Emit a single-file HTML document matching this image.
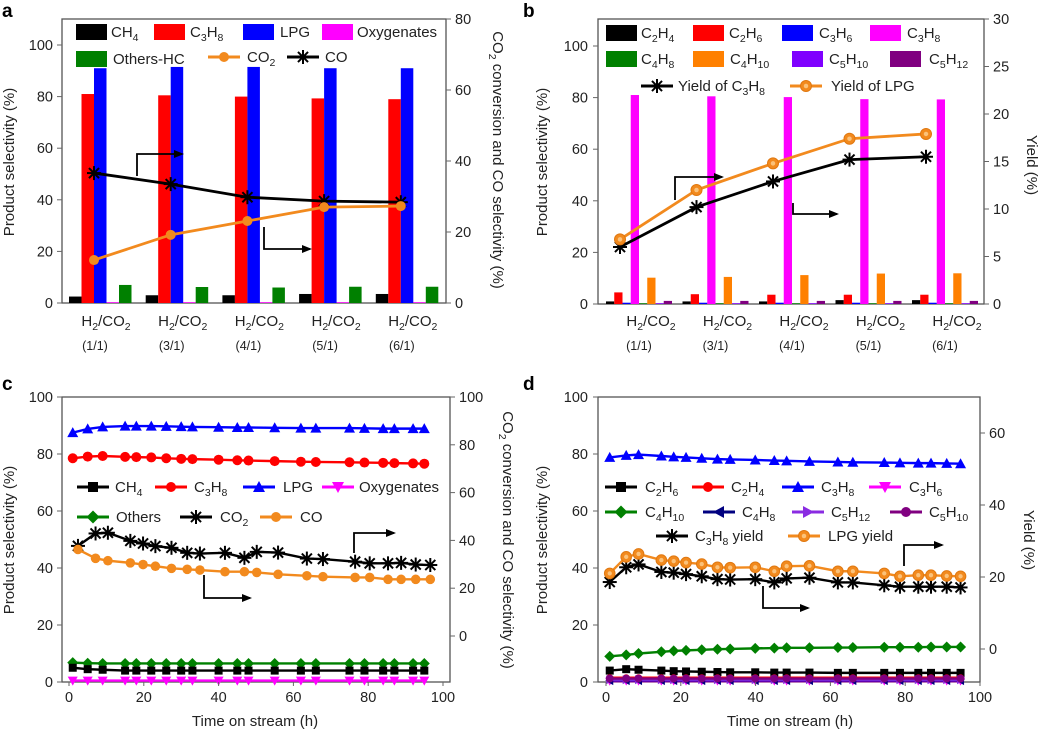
<!DOCTYPE html>
<html><head><meta charset="utf-8"><style>
body{margin:0;background:#fff;}
svg{display:block;font-family:"Liberation Sans",sans-serif;}
</style></head><body>
<svg id="fig" width="1039" height="731" viewBox="0 0 1039 731"></svg>
<script>
// ---- Panel a data ----
const aCats = ["(1/1)","(3/1)","(4/1)","(5/1)","(6/1)"];
const aCH4 = [2.5,3,3,3.5,3.5];
const aC3H8 = [81,80.5,80,79.3,79];
const aLPG = [91,91.5,91.5,91,91];
const aOxy = [0.3,0.3,0.3,0.3,0.3];
const aOthers = [7,6.2,6,6.3,6.3];
const aCO2conv = [12.1,19.2,23.1,27,27.3];
const aCOsel = [36.6,33.5,29.8,28.7,28.4];
const aLeftTicks = [0,20,40,60,80,100];
const aRightTicks = [0,20,40,60,80];
// ---- Panel b data ----
const bC2H4 = [1,1,1,1.5,1.5];
const bC2H6 = [4.5,3.8,3.6,3.6,3.6];
const bC3H6 = [0.5,0.5,0.5,0.5,0.5];
const bC3H8 = [81,80.5,80.2,79.4,79.3];
const bC4H8 = [0.3,0.3,0.3,0.3,0.3];
const bC4H10 = [10.2,10.5,11.2,11.8,11.9];
const bC5H10 = [0.3,0.3,0.3,0.3,0.3];
const bC5H12 = [1.2,1.2,1.2,1.2,1.2];
const bYieldC3H8 = [6.0,10.2,12.9,15.2,15.5];
const bYieldLPG = [6.8,12.0,14.8,17.4,17.9];
const bRightTicks = [0,5,10,15,20,25,30];
// ---- Panel c data ----
const cHours = [1,5,9,15,18,22,26,30,33,40,45,48,55,62,66,75,79,84,87,92,95];
const cLPG = [87.5,88.8,89.5,89.8,89.8,89.8,89.7,89.6,89.5,89.4,89.3,89.3,89.2,89.1,89.1,89.1,89,88.9,88.9,88.9,88.9];
const cC3H8 = [78.5,79.1,79.3,79,78.9,78.8,78.5,78.3,78.2,78,77.8,77.7,77.5,77.3,77.2,77.1,77,76.9,76.8,76.7,76.6];
const cOthers = [6.8,6.6,6.5,6.5,6.5,6.5,6.5,6.5,6.5,6.5,6.5,6.5,6.5,6.5,6.5,6.5,6.5,6.5,6.5,6.5,6.5];
const cCH4 = [5,4.5,4.3,4,4,4,4,4,4,4,4,4,4,4,4,4,4,4,4,4,4];
const cOxy = [0.5,0.5,0.5,0.5,0.5,0.5,0.5,0.5,0.5,0.5,0.5,0.5,0.5,0.5,0.5,0.5,0.5,0.5,0.5,0.5,0.5];
const cGasHours = [2.4,7.1,10.4,16.4,19.8,23.1,27.4,31.6,35,41.7,46.9,50.2,55.9,63.6,67.9,76.5,80.4,85.3,88.8,92.7,96.6];
const cCO2 = [37.7,42.9,43.2,39.8,38.7,37.6,36.9,34.8,34.5,34.8,32.7,35.2,34.9,32.4,32.2,31.1,30.4,30.4,30.6,29.9,29.7];
const cCO = [36.2,32.5,31.5,30.6,29.9,29.2,28.3,27.9,27.6,26.9,26.9,26.6,25.8,25.2,24.8,24.5,24.5,23.7,23.7,23.7,23.7];
const xTicks = [0,20,40,60,80,100];
const cRightTicks = [0,20,40,60,80,100];
// ---- Panel d data ----
const dHours = [1,5.4,8.7,14.8,18.1,21.4,25.6,29.8,33.2,39.9,45,48.3,54.4,62,66,74.4,78.6,83.5,86.9,91.1,94.8];
const dC3H8 = [78.8,79.5,79.8,79.3,79,78.8,78.5,78.2,78.1,77.9,77.7,77.6,77.4,77.2,77.1,77,76.9,76.8,76.8,76.7,76.6];
const dC4H10 = [9,9.5,10,10.6,10.9,11.1,11.3,11.5,11.6,11.8,11.9,12,12,12.1,12.1,12.2,12.2,12.2,12.3,12.3,12.3];
const dC2H6 = [4,4.5,4.3,4,3.8,3.7,3.6,3.5,3.4,3.4,3.3,3.3,3.3,3.2,3.2,3.2,3.2,3.2,3.2,3.2,3.2];
const dC2H4 = [1.5,1.5,1.5,1.5,1.5,1.5,1.5,1.5,1.5,1.5,1.5,1.5,1.5,1.5,1.5,1.5,1.5,1.5,1.5,1.5,1.5];
const dC3H6 = [0.3,0.3,0.3,0.3,0.3,0.3,0.3,0.3,0.3,0.3,0.3,0.3,0.3,0.3,0.3,0.3,0.3,0.3,0.3,0.3,0.3];
const dC4H8 = [0.5,0.5,0.5,0.5,0.5,0.5,0.5,0.5,0.5,0.5,0.5,0.5,0.5,0.5,0.5,0.5,0.5,0.5,0.5,0.5,0.5];
const dC5H12 = [0.8,0.8,0.8,0.8,0.8,0.8,0.8,0.8,0.8,0.8,0.8,0.8,0.8,0.8,0.8,0.8,0.8,0.8,0.8,0.8,0.8];
const dC5H10 = [1.2,1.2,1.2,1.2,1.2,1.2,1.2,1.2,1.2,1.2,1.2,1.2,1.2,1.2,1.2,1.2,1.2,1.2,1.2,1.2,1.2];
const dYieldC3H8 = [18.6,22.7,23.5,21.4,21.2,20.8,20.2,19.4,19.3,19.4,18.5,19.6,19.8,18.5,18.5,17.7,17.3,17.3,17.3,17.3,17.1];
const dYieldLPG = [21,25.6,26.4,24.7,24.4,24,23.6,22.7,22.6,22.7,21.6,23,23.1,21.6,21.6,21,20.2,20.5,20.5,20.3,20.2];
const dRightTicks = [0,20,40,60];

const NS = "http://www.w3.org/2000/svg";
const svg = document.getElementById('fig');
const OR = "#f28a1e", GR = "#008000", BL = "#0000ff", RD = "#ff0000", MG = "#ff00ff";
function el(tag, attrs, parent){
  const e = document.createElementNS(NS, tag);
  for (const k in attrs) e.setAttribute(k, attrs[k]);
  (parent||svg).appendChild(e);
  return e;
}
function group(name){
  const g = el('g', {});
  
  
  return g;
}
function txt(parent, x, y, s, opts){
  opts = opts||{};
  const t = el('text', {x:x, y:y, 'font-size':opts.size||14, fill:opts.fill||'#222', 'text-anchor':opts.anchor||'start'}, parent);
  if (opts.weight) t.setAttribute('font-weight', opts.weight);
  if (opts.transform) t.setAttribute('transform', opts.transform);
  const parts = s.split(/(_[0-9]+)/);
  let sub = false;
  parts.forEach(p => {
    if (!p) return;
    const ts = document.createElementNS(NS, 'tspan');
    if (p[0] === '_') {
      ts.textContent = p.slice(1);
      ts.setAttribute('font-size', (opts.size||14)*0.7);
      ts.setAttribute('dy', 4);
      sub = true;
    } else {
      ts.textContent = p;
      if (sub) { ts.setAttribute('dy', -4); sub = false; }
    }
    t.appendChild(ts);
  });
  return t;
}
function marker(parent, type, x, y, color, r){
  r = r||4.5;
  let m;
  if (type==='square') m = el('rect',{x:x-r,y:y-r,width:2*r,height:2*r,fill:color},parent);
  else if (type==='circle') m = el('circle',{cx:x,cy:y,r:r,fill:color},parent);
  else if (type==='ocircle'){ m = el('circle',{cx:x,cy:y,r:r+0.5,fill:color,stroke:'#e07810','stroke-width':1},parent); el('circle',{cx:x,cy:y,r:r*0.45,fill:'#fbc27a'},parent); }
  else if (type==='tri') m = el('polygon',{points:`${x},${y-r-1} ${x-r-1},${y+r} ${x+r+1},${y+r}`,fill:color},parent);
  else if (type==='tridown') m = el('polygon',{points:`${x},${y+r+1} ${x-r-1},${y-r} ${x+r+1},${y-r}`,fill:color},parent);
  else if (type==='trileft') m = el('polygon',{points:`${x-r-1},${y} ${x+r},${y-r-1} ${x+r},${y+r+1}`,fill:color},parent);
  else if (type==='triright') m = el('polygon',{points:`${x+r+1},${y} ${x-r},${y-r-1} ${x-r},${y+r+1}`,fill:color},parent);
  else if (type==='diamond') m = el('polygon',{points:`${x},${y-r-1.5} ${x+r+1.5},${y} ${x},${y+r+1.5} ${x-r-1.5},${y}`,fill:color},parent);
  else if (type==='star'){
    m = el('g',{},parent);
    const R = r+3;
    [[0,R],[R,0],[R*0.72,R*0.72],[R*0.72,-R*0.72]].forEach(([dx,dy])=>{
      el('line',{x1:x-dx,y1:y-dy,x2:x+dx,y2:y+dy,stroke:color,'stroke-width':2},m);
    });
  }
  return m;
}
function series(name, xs, ys, color, type, lw, r){
  const g = group(name);
  el('polyline',{points:xs.map((x,i)=>x+','+ys[i]).join(' '),fill:'none',stroke:color,'stroke-width':lw||2.2},g);
  xs.forEach((x,i)=>{
    const m = marker(g, type, x, ys[i], color, r);
    
    
  });
  return g;
}
function frame(name,x0,y0,x1,y1){
  const r = el('rect',{x:x0,y:y0,width:x1-x0,height:y1-y0,fill:'none',stroke:'#555','stroke-width':1.3});
  
  
}
function leftAxis(name, ticks, yf, x0, labelRight){
  const g = group(name);
  ticks.forEach(t=>{
    el('line',{x1:x0-5,y1:yf(t),x2:x0,y2:yf(t),stroke:'#666','stroke-width':1},g);
    txt(g, labelRight, yf(t)+5, String(t), {anchor:'end', size:14.5});
  });
}
function rightAxis(name, ticks, yf, x1, labelLeft){
  const g = group(name);
  ticks.forEach(t=>{
    el('line',{x1:x1,y1:yf(t),x2:x1+5,y2:yf(t),stroke:'#666','stroke-width':1},g);
    txt(g, labelLeft, yf(t)+5, String(t), {size:14.5});
  });
}
function bottomAxis(name, ticks, xf, y1){
  const g = group(name);
  ticks.forEach(t=>{
    el('line',{x1:xf(t),y1:y1,x2:xf(t),y2:y1+4,stroke:'#666','stroke-width':1},g);
    txt(g, xf(t), y1+20, String(t), {anchor:'middle', size:14.5});
  });
}
function arrowPath(name, pts){
  const g = group(name);
  el('polyline',{points:pts.map(p=>p.join(',')).join(' '),fill:'none',stroke:'#000','stroke-width':1.8},g);
  const [x,y] = pts[pts.length-1];
  el('polygon',{points:`${x+2},${y} ${x-8},${y-4} ${x-8},${y+4}`,fill:'#000'},g);
}
function vtitle(name, x, y, s, rot){
  const g = group(name);
  txt(g, x, y, s, {anchor:'middle', size:15, transform:`rotate(${rot} ${x} ${y})`});
}
function legendRect(g,x,y,color,label,tx){
  el('rect',{x:x,y:y-8,width:31,height:16,fill:color},g);
  txt(g, tx, y+5, label, {size:15});
}
function legendLine(g,x,y,color,type,label,tx){
  el('line',{x1:x,y1:y,x2:x+32,y2:y,stroke:color,'stroke-width':3},g);
  marker(g,type,x+16,y,color,type==='star'?4:5);
  txt(g, tx, y+5, label, {size:15});
}

// ================= Panel a =================
(function(){
  const Y = v => 303 - v*2.58, YR = v => 303 - v*3.55;
  const GX = i => 69 + i*76.7, BW = 12.5;
  txt(svg, 2, 17, 'a', {size:19, weight:'bold', fill:'#000'});
  frame('panel-a-frame',62,19,446,303);
  const sets = [[aCH4,'#000','ch4'],[aC3H8,RD,'c3h8'],[aLPG,BL,'lpg'],[aOxy,MG,'oxygenates'],[aOthers,GR,'others-hc']];
  sets.forEach(([arr,col,nm],k)=>{
    const g = group('bars-a-'+nm);
    arr.forEach((v,i)=>{
      const r = el('rect',{x:GX(i)+k*BW,y:Y(v),width:BW,height:303-Y(v),fill:col},g);
      
      
    });
  });
  series('line-a-co-selectivity', aCOsel.map((v,i)=>GX(i)+25), aCOsel.map(YR), '#000', 'star', 2.8, 4);
  series('line-a-co2-conversion', aCO2conv.map((v,i)=>GX(i)+25), aCO2conv.map(YR), OR, 'circle', 2.8, 5);
  leftAxis('y-axis-left-a', aLeftTicks, Y, 62, 53);
  rightAxis('y-axis-right-a', aRightTicks, YR, 446, 455);
  const gx = group('x-axis-a');
  aCats.forEach((c,i)=>{
    txt(gx, GX(i)+37, 326, 'H_2/CO_2', {anchor:'middle', size:15});
    txt(gx, GX(i)+26, 350, c, {anchor:'middle', size:12.5});
  });
  vtitle('y-axis-title-left-a', 14, 162, 'Product selectivity (%)', -90);
  vtitle('y-axis-title-right-a', 493, 160, 'CO_2 conversion and CO selectivity (%)', 90);
  const lg = group('legend-a');
  legendRect(lg,76,32,'#000','CH_4',111);
  legendRect(lg,154,32,RD,'C_3H_8',190);
  legendRect(lg,243,32,BL,'LPG',280);
  legendRect(lg,322,32,MG,'Oxygenates',357);
  legendRect(lg,76,59,GR,'Others-HC',113);
  legendLine(lg,208,57,OR,'circle','CO_2',247);
  legendLine(lg,287,57,'#000','star','CO',325);
  arrowPath('arrow-a-right', [[137,176],[137,154],[182,154]]);
  arrowPath('arrow-a-left', [[264,227],[264,249],[310,249]]);
})();

// ================= Panel b =================
(function(){
  const Y = v => 304 - v*2.58, YR = v => 304 - v*9.5;
  const GX = i => 606 + i*76.5, BW = 8.25;
  txt(svg, 523, 17, 'b', {size:19, weight:'bold', fill:'#000'});
  frame('panel-b-frame',598,19,984,304);
  const sets = [[bC2H4,'#000','c2h4'],[bC2H6,RD,'c2h6'],[bC3H6,BL,'c3h6'],[bC3H8,MG,'c3h8'],[bC4H8,GR,'c4h8'],[bC4H10,'#ff8000','c4h10'],[bC5H10,'#7f00ff','c5h10'],[bC5H12,'#800080','c5h12']];
  sets.forEach(([arr,col,nm],k)=>{
    const g = group('bars-b-'+nm);
    arr.forEach((v,i)=>{
      const r = el('rect',{x:GX(i)+k*BW,y:Y(v),width:BW,height:304-Y(v),fill:col},g);
      
      
    });
  });
  series('line-b-yield-c3h8', bYieldC3H8.map((v,i)=>GX(i)+14), bYieldC3H8.map(YR), '#000', 'star', 2.8, 4);
  series('line-b-yield-lpg', bYieldLPG.map((v,i)=>GX(i)+14), bYieldLPG.map(YR), OR, 'ocircle', 2.8, 5);
  leftAxis('y-axis-left-b', aLeftTicks, Y, 598, 588);
  rightAxis('y-axis-right-b', bRightTicks, YR, 984, 993);
  const gx = group('x-axis-b');
  aCats.forEach((c,i)=>{
    txt(gx, GX(i)+45, 326, 'H_2/CO_2', {anchor:'middle', size:15});
    txt(gx, GX(i)+33, 350, c, {anchor:'middle', size:12.5});
  });
  vtitle('y-axis-title-left-b', 547, 162, 'Product selectivity (%)', -90);
  vtitle('y-axis-title-right-b', 1027, 165, 'Yield (%)', 90);
  const lg = group('legend-b');
  legendRect(lg,606,33,'#000','C_2H_4',641);
  legendRect(lg,693,33,RD,'C_2H_6',729);
  legendRect(lg,782,33,BL,'C_3H_6',819);
  legendRect(lg,870,33,MG,'C_3H_8',907);
  legendRect(lg,606,59,GR,'C_4H_8',641);
  legendRect(lg,693,59,'#ff8000','C_4H_10',730);
  legendRect(lg,792,59,'#7f00ff','C_5H_10',829);
  legendRect(lg,890,59,'#800080','C_5H_12',929);
  legendLine(lg,641,86,'#000','star','Yield of C_3H_8',678);
  legendLine(lg,790,86,OR,'ocircle','Yield of LPG',831);
  arrowPath('arrow-b-right', [[675,200],[675,177],[722,177]]);
  arrowPath('arrow-b-left', [[793,203],[793,214],[837,214]]);
})();

// ================= Panel c =================
(function(){
  const X = h => 69 + h*3.74, Y = v => 682 - v*2.85, YR = v => 636 - v*2.39;
  txt(svg, 2, 390, 'c', {size:19, weight:'bold', fill:'#000'});
  frame('panel-c-frame',62,397,450,682);
  series('line-c-others', cHours.map(X), cOthers.map(Y), GR, 'diamond', 2.4, 4);
  series('line-c-ch4', cHours.map(X), cCH4.map(Y), '#000', 'square', 2.4, 4);
  series('line-c-oxygenates', cHours.map(X), cOxy.map(Y), MG, 'tridown', 2.4, 4);
  series('line-c-c3h8', cHours.map(X), cC3H8.map(Y), RD, 'circle', 2.4, 5);
  series('line-c-lpg', cHours.map(X), cLPG.map(Y), BL, 'tri', 2.4, 4.5);
  series('line-c-co2', cGasHours.map(X), cCO2.map(YR), '#000', 'star', 2.4, 4);
  series('line-c-co', cGasHours.map(X), cCO.map(YR), OR, 'circle', 2.4, 4.8);
  leftAxis('y-axis-left-c', aLeftTicks, Y, 62, 53);
  rightAxis('y-axis-right-c', cRightTicks, YR, 450, 459);
  bottomAxis('x-axis-c', xTicks, X, 682);
  const t = group('x-axis-title-c');
  txt(t, 255, 726, 'Time on stream  (h)', {anchor:'middle', size:15});
  vtitle('y-axis-title-left-c', 14, 540, 'Product selectivity (%)', -90);
  vtitle('y-axis-title-right-c', 503, 540, 'CO_2 conversion and CO selectivity (%)', 90);
  const lg = group('legend-c');
  legendLine(lg,77,487,'#000','square','CH_4',115);
  legendLine(lg,155,487,RD,'circle','C_3H_8',194);
  legendLine(lg,243,487,BL,'tri','LPG',283);
  legendLine(lg,322,487,MG,'tridown','Oxygenates',359);
  legendLine(lg,77,517,GR,'diamond','Others',116);
  legendLine(lg,180,517,'#000','star','CO_2',220);
  legendLine(lg,260,517,OR,'circle','CO',300);
  arrowPath('arrow-c-left', [[204,575],[204,598],[250,598]]);
  arrowPath('arrow-c-right', [[354,553],[354,533],[394,533]]);
})();

// ================= Panel d =================
(function(){
  const X = h => 606 + h*3.74, Y = v => 682 - v*2.85, YR = v => 649 - v*3.6;
  txt(svg, 523, 390, 'd', {size:19, weight:'bold', fill:'#000'});
  frame('panel-d-frame',598,397,980,682);
  series('line-d-c4h10', dHours.map(X), dC4H10.map(Y), GR, 'diamond', 2.4, 4);
  series('line-d-c2h6', dHours.map(X), dC2H6.map(Y), '#000', 'square', 2.4, 4);
  series('line-d-c2h4', dHours.map(X), dC2H4.map(Y), RD, 'circle', 2.4, 3.5);
  series('line-d-c3h6', dHours.map(X), dC3H6.map(Y), MG, 'tridown', 2.2, 3.5);
  series('line-d-c4h8', dHours.map(X), dC4H8.map(Y), '#000080', 'trileft', 2.2, 3.5);
  series('line-d-c5h12', dHours.map(X), dC5H12.map(Y), '#8a2be2', 'triright', 2.2, 3.5);
  series('line-d-c5h10', dHours.map(X), dC5H10.map(Y), '#800080', 'circle', 2.4, 4);
  series('line-d-c3h8', dHours.map(X), dC3H8.map(Y), BL, 'tri', 2.4, 4.5);
  series('line-d-c3h8-yield', dHours.map(X), dYieldC3H8.map(YR), '#000', 'star', 2.4, 4);
  series('line-d-lpg-yield', dHours.map(X), dYieldLPG.map(YR), OR, 'ocircle', 2.4, 4.8);
  leftAxis('y-axis-left-d', aLeftTicks, Y, 598, 588);
  rightAxis('y-axis-right-d', dRightTicks, YR, 980, 989);
  bottomAxis('x-axis-d', xTicks, X, 682);
  const t = group('x-axis-title-d');
  txt(t, 790, 726, 'Time on stream  (h)', {anchor:'middle', size:15});
  vtitle('y-axis-title-left-d', 547, 540, 'Product selectivity (%)', -90);
  vtitle('y-axis-title-right-d', 1024, 540, 'Yield (%)', 90);
  const lg = group('legend-d');
  legendLine(lg,605,487,'#000','square','C_2H_6',645);
  legendLine(lg,692,487,RD,'circle','C_2H_4',731);
  legendLine(lg,782,487,BL,'tri','C_3H_8',821);
  legendLine(lg,869,487,MG,'tridown','C_3H_6',909);
  legendLine(lg,605,512,GR,'diamond','C_4H_10',645);
  legendLine(lg,703,512,'#000080','trileft','C_4H_8',742);
  legendLine(lg,792,512,'#8a2be2','triright','C_5H_12',831);
  legendLine(lg,890,512,'#800080','circle','C_5H_10',929);
  legendLine(lg,656,536,'#000','star','C_3H_8 yield',695);
  legendLine(lg,788,536,OR,'ocircle','LPG yield',828);
  arrowPath('arrow-d-left', [[763,586],[763,608],[808,608]]);
  arrowPath('arrow-d-right', [[904,566],[904,545],[942,545]]);
})();
</script>
</body></html>
